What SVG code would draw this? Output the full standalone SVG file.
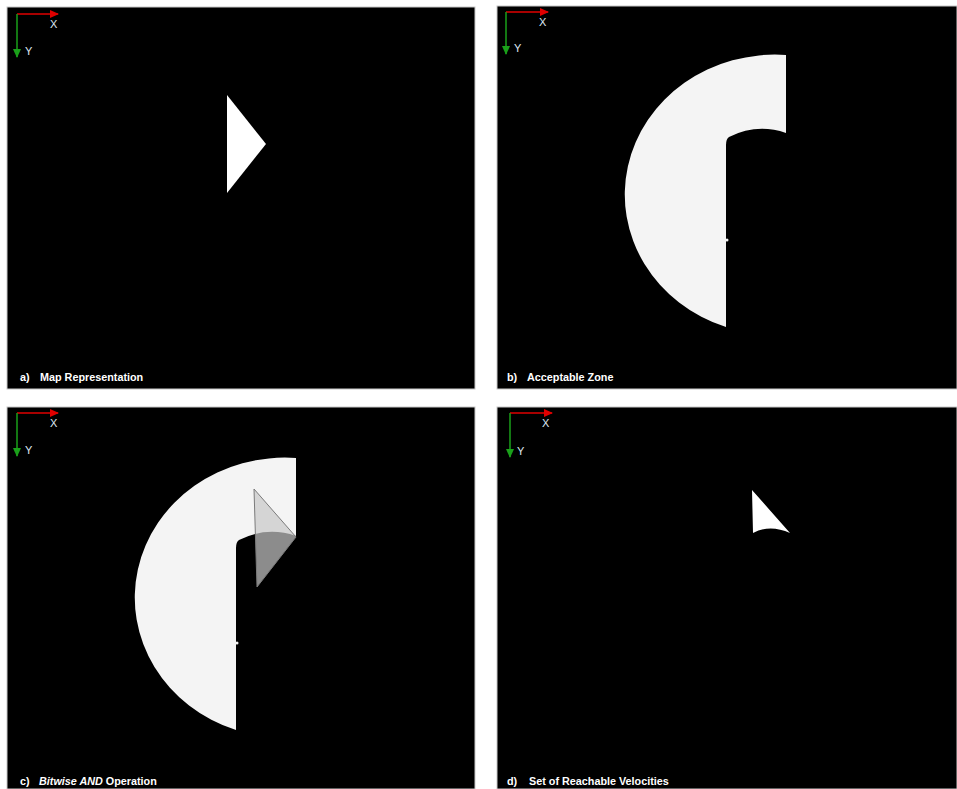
<svg xmlns="http://www.w3.org/2000/svg" width="957" height="789" viewBox="0 0 957 789">
  <defs>
    <marker id="ar" markerUnits="userSpaceOnUse" markerWidth="9" markerHeight="8" refX="8" refY="4" orient="auto">
      <path d="M0,0 L9,4 L0,8 Z" fill="#e00000"/>
    </marker>
    <marker id="ag" markerUnits="userSpaceOnUse" markerWidth="9" markerHeight="8" refX="8" refY="4" orient="auto">
      <path d="M0,0 L9,4 L0,8 Z" fill="#1aa01a"/>
    </marker>
  </defs>
  <style>
    .panel { fill: #000; stroke: #c8c8c8; stroke-width: 1; }
    .xax { stroke: #e00000; stroke-width: 1.5; marker-end: url(#ar); }
    .yax { stroke: #1aa01a; stroke-width: 1.5; marker-end: url(#ag); }
    .axl { font-family: "Liberation Sans", Arial, sans-serif; font-size: 11px; fill: #dde8f2; }
    .cap { font-family: "Liberation Sans", Arial, sans-serif; font-size: 10.8px; font-weight: bold; fill: #ffffff; }
    .zone { fill: #f4f4f4; }
  </style>
  <rect width="957" height="789" fill="#ffffff"/>

  <g id="panel-a">
    <rect class="panel" x="7" y="7" width="468" height="382"/>
    <line class="xax" x1="17" y1="14" x2="58" y2="14"/>
    <line class="yax" x1="17" y1="14" x2="17" y2="57"/>
    <text class="axl" x="50" y="28">X</text>
    <text class="axl" x="25" y="55">Y</text>
    <polygon points="227,95 266,144 227,193" fill="#ffffff"/>
    <text class="cap" x="20" y="381">a)</text>
    <text class="cap" x="40" y="381">Map Representation</text>
  </g>

  <g id="panel-b">
    <rect class="panel" x="497" y="6" width="460" height="383"/>
    <line class="xax" x1="506" y1="12" x2="548" y2="12"/>
    <line class="yax" x1="506" y1="12" x2="506" y2="54"/>
    <text class="axl" x="539" y="26">X</text>
    <text class="axl" x="514" y="52">Y</text>
    <path class="zone" d="M786,55 L786,133 Q757,123 729,137 Q726,139 726,145 L726,327 A150,140 0 0 1 786,55 Z"/>
    <circle class="zone" cx="727" cy="240" r="1.5"/>
    <text class="cap" x="507" y="381">b)</text>
    <text class="cap" x="527" y="381">Acceptable Zone</text>
  </g>

  <g id="panel-c">
    <rect class="panel" x="7" y="407" width="468" height="382"/>
    <line class="xax" x1="17" y1="413" x2="58" y2="413"/>
    <line class="yax" x1="17" y1="413" x2="17" y2="456"/>
    <text class="axl" x="50" y="427">X</text>
    <text class="axl" x="25" y="454">Y</text>
    <path class="zone" d="M296,458 L296,536 Q267,526 239,540 Q236,542 236,548 L236,730 A150,140 0 0 1 296,458 Z"/>
    <circle class="zone" cx="237" cy="643" r="1.5"/>
    <polygon points="254,489 296,537 257,587" fill="#c8c8c8" fill-opacity="0.7" stroke="#7a7a7a" stroke-width="1"/>
    <text class="cap" x="20" y="785">c)</text>
    <text class="cap" x="39" y="785"><tspan font-style="italic">Bitwise AND</tspan> Operation</text>
  </g>

  <g id="panel-d">
    <rect class="panel" x="497" y="407" width="460" height="382"/>
    <line class="xax" x1="510" y1="413" x2="552" y2="413"/>
    <line class="yax" x1="510" y1="413" x2="510" y2="457"/>
    <text class="axl" x="542" y="427">X</text>
    <text class="axl" x="517" y="455">Y</text>
    <path d="M752,490 L790,533 Q770,524 753,533 Z" fill="#ffffff"/>
    <text class="cap" x="507" y="785">d)</text>
    <text class="cap" x="529" y="785">Set of Reachable Velocities</text>
  </g>

  <g id="connectors"/>
</svg>
